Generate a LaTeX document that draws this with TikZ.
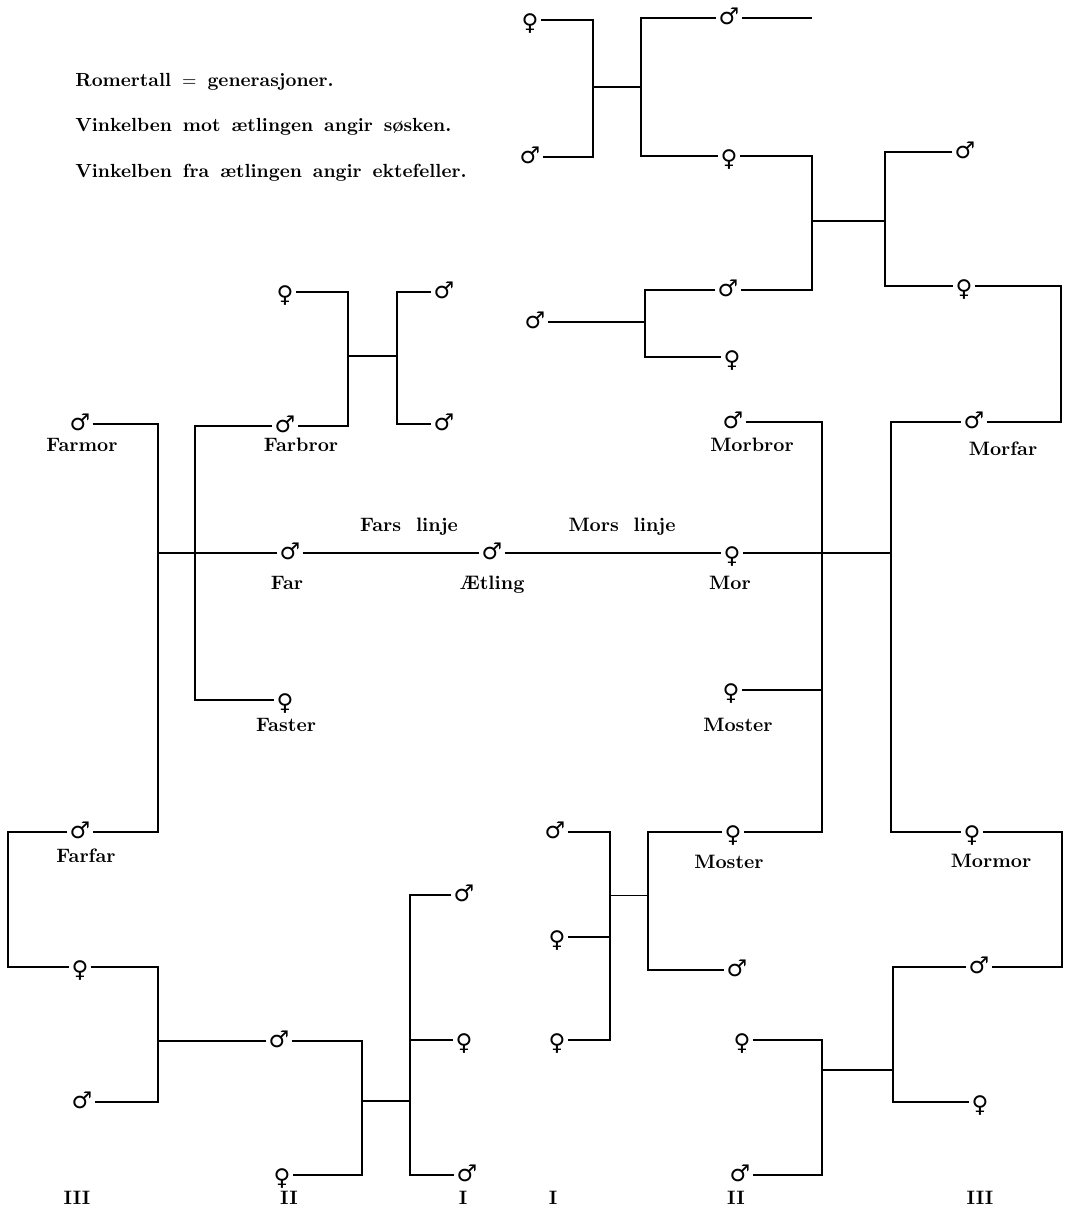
\documentclass[tikz,border=0pt]{standalone}
\usepackage{fontspec}
\newfontfamily\kjonnfont{DejaVu Sans}
\usetikzlibrary{positioning}
\newcommand{\hann}{\raisebox{-0.28em}{♂}}
\newcommand{\hunn}{\raisebox{-0.46em}{♀}}
\newcommand{\bredt}{\spaceskip=5.5pt\relax}

\begin{document}
\begin{tikzpicture}[x=0.5pt,y=-0.5pt]
	% stiler
	\tikzstyle{every node}=[inner sep=0pt]
	\tikzstyle{kjonn}=[font=\kjonnfont\fontsize{11.5}{11.5}\selectfont, text height=0pt, text depth=0pt, inner xsep=1pt]
	\tikzstyle{navn}=[font=\fontsize{9.7}{11}\selectfont\bfseries, anchor=base]
	\tikzstyle{tekst}=[navn, anchor=base west, font=\fontsize{9.5}{11}\selectfont\bfseries\bredt]
	\tikzstyle{linje}=[line width=1pt]
	\useasboundingbox (0,0) rectangle (1072,1215);
	% forklaring
	\node [tekst] (forkl1) at (75,86) {Romertall $=$ generasjoner.};
	\node [tekst] (forkl2) at (75,131) {Vinkelben mot ætlingen angir søsken.};
	\node [tekst] (forkl3) at (75,177) {Vinkelben fra ætlingen angir ektefeller.};
	% farssiden
	\node [kjonn] (Farmor) at (80,424) {\hann};
	\node [kjonn] (Farbror) at (285,426) {\hann};
	\node [kjonn] (Far) at (290,553) {\hann};
	\node [kjonn] (Aetling) at (492,553) {\hann};
	\node [kjonn] (Faster) at (285,700) {\hunn};
	\node [kjonn] (Farfar) at (80,832) {\hann};
	\node [kjonn] (fbk) at (285,292) {\hunn};
	\node [kjonn] (fbs1) at (444,292) {\hann};
	\node [kjonn] (fbs2) at (444,424) {\hann};
	\node [kjonn] (ffa) at (80,967) {\hunn};
	\node [kjonn] (ffb) at (82,1102) {\hann};
	\node [kjonn] (ffc) at (279,1041) {\hann};
	\node [kjonn] (ffd) at (282,1175) {\hunn};
	\node [kjonn] (ffe) at (464,895) {\hann};
	\node [kjonn] (fff) at (464,1040) {\hunn};
	\node [kjonn] (ffg) at (467,1175) {\hann};
	% morssiden
	\node [kjonn] (Mor) at (732,553) {\hunn};
	\node [kjonn] (Morbror) at (733,422) {\hann};
	\node [kjonn] (MosterA) at (731,690) {\hunn};
	\node [kjonn] (MosterB) at (733,832) {\hunn};
	\node [kjonn] (Morfar) at (974,422) {\hann};
	\node [kjonn] (Mormor) at (972,832) {\hunn};
	\node [kjonn] (t1) at (530,20) {\hunn};
	\node [kjonn] (t2) at (530,157) {\hann};
	\node [kjonn] (t3) at (729,18) {\hann};
	\node [kjonn] (t4) at (729,156) {\hunn};
	\node [kjonn] (t5) at (965,152) {\hann};
	\node [kjonn] (t6) at (964,286) {\hunn};
	\node [kjonn] (m1) at (535,322) {\hann};
	\node [kjonn] (m2) at (728,290) {\hann};
	\node [kjonn] (m3) at (732,357) {\hunn};
	\node [kjonn] (b1) at (555,832) {\hann};
	\node [kjonn] (b2) at (557,937) {\hunn};
	\node [kjonn] (b3) at (557,1040) {\hunn};
	\node [kjonn] (b4) at (737,970) {\hann};
	\node [kjonn] (r1) at (979,967) {\hann};
	\node [kjonn] (r2) at (980,1102) {\hunn};
	\node [kjonn] (r3) at (742,1040) {\hunn};
	\node [kjonn] (r4) at (740,1175) {\hann};
	% navn
	\node [navn] (nFarmor) at (82,451) {Farmor};
	\node [navn] (nFarbror) at (301,451) {Farbror};
	\node [navn] (nFar) at (287,589) {Far};
	\node [navn] (nAetling) at (492,589) {Ætling};
	\node [navn] (nFaster) at (286,731) {Faster};
	\node [navn] (nFarfar) at (86,862) {Farfar};
	\node [navn] (nFars) at (409,531) {Fars \ linje};
	\node [navn] (nMors) at (622,531) {Mors \ linje};
	\node [navn] (nMor) at (730,589) {Mor};
	\node [navn] (nMorbror) at (752,451) {Morbror};
	\node [navn] (nMosterA) at (738,731) {Moster};
	\node [navn] (nMosterB) at (729,868) {Moster};
	\node [navn] (nMorfar) at (1003,455) {Morfar};
	\node [navn] (nMormor) at (991,867) {Mormor};
	% generasjoner
	\node [navn] (g1) at (77,1204) {III};
	\node [navn] (g2) at (289,1204) {II};
	\node [navn] (g3) at (463,1204) {I};
	\node [navn] (g4) at (553,1204) {I};
	\node [navn] (g5) at (736,1204) {II};
	\node [navn] (g6) at (980,1204) {III};
	% knutepunkter
	\coordinate (k1) at (822,553);
	\coordinate (k2) at (891,553);
	\coordinate (k3) at (1061,350);
	\coordinate (k4) at (1062,900);
	\coordinate (k5) at (893,1070);
	\coordinate (k6) at (822,1070);
	\coordinate (k7) at (648,895);
	\coordinate (k8) at (610,895);
	\coordinate (k9) at (885,221);
	\coordinate (k10) at (812,221);
	\coordinate (k11) at (641,87);
	\coordinate (k12) at (593,87);
	\coordinate (k13) at (645,322);
	\coordinate (k14) at (195,553);
	\coordinate (k15) at (348,356);
	\coordinate (k16) at (397,356);
	\coordinate (k17) at (158,553);
	\coordinate (k18) at (8,900);
	\coordinate (k19) at (158,1041);
	\coordinate (k20) at (362,1101);
	\coordinate (k21) at (410,1101);
	\coordinate (e1) at (812,18);
	% linjer farssiden
	\draw [linje] (Farmor) -| (k17) |- (Farfar);
	\draw [linje] (k17) -- (Far);
	\draw [linje] (Far) -- (Aetling);
	\draw [linje] (Farbror) -| (k14) |- (Faster);
	\draw [linje] (fbk) -| (k15) |- (Farbror);
	\draw [linje] (k15) -- (k16);
	\draw [linje] (fbs1) -| (k16) |- (fbs2);
	\draw [linje] (Farfar) -| (k18) |- (ffa);
	\draw [linje] (ffa) -| (k19) |- (ffb);
	\draw [linje] (k19) -- (ffc);
	\draw [linje] (ffc) -| (k20) |- (ffd);
	\draw [linje] (k20) -- (k21);
	\draw [linje] (ffe) -| (k21) |- (ffg);
	\draw [linje] (fff) -- (fff -| k21);
	% linjer morssiden
	\draw [linje] (Aetling) -- (Mor);
	\draw [linje] (Mor) -- (k2);
	\draw [linje] (Morbror) -| (k1) |- (MosterB);
	\draw [linje] (MosterA) -- (MosterA -| k1);
	\draw [linje] (Morfar) -| (k2) |- (Mormor);
	\draw [linje] (t6) -| (k3) |- (Morfar);
	\draw [linje] (Mormor) -| (k4) |- (r1);
	\draw [linje] (r1) -| (k5) |- (r2);
	\draw [linje] (k5) -- (k6);
	\draw [linje] (r3) -| (k6) |- (r4);
	\draw [linje] (MosterB) -| (k7) |- (b4);
	\draw [thin] (k7) -- (k8);
	\draw [linje] (b1) -| (k8) |- (b3);
	\draw [linje] (b2) -- (b2 -| k8);
	\draw [linje] (t5) -| (k9) |- (t6);
	\draw [linje] (k9) -- (k10);
	\draw [linje] (t4) -| (k10) |- (m2);
	\draw [linje] (t3) -| (k11) |- (t4);
	\draw [linje] (t3) -- (e1);
	\draw [linje] (k11) -- (k12);
	\draw [linje] (t1) -| (k12) |- (t2);
	\draw [linje] (m2) -| (k13) |- (m3);
	\draw [linje] (m1) -- (k13);
\end{tikzpicture}
\end{document}
